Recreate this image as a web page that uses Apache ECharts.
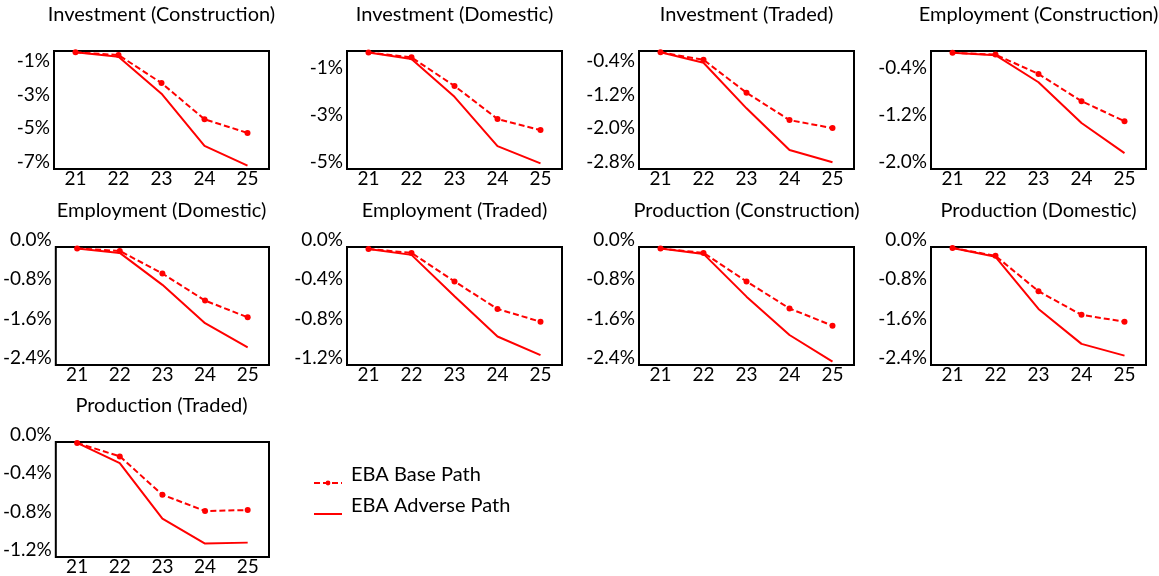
<!DOCTYPE html>
<html>
<head>
<meta charset="utf-8">
<title>EBA stress paths</title>
<script src="https://cdn.jsdelivr.net/npm/echarts@6/dist/echarts.min.js"></script>
<style>
  html, body { margin: 0; padding: 0; background: #ffffff; }
  #chart { width: 1159px; height: 576px; }
</style>
</head>
<body>
<div id="chart"></div>
<script>
// Years on the horizontal axis (20xx)
const years = ['21', '22', '23', '24', '25'];

const panelTitles = [
  'Investment (Construction)', 'Investment (Domestic)', 'Investment (Traded)', 'Employment (Construction)',
  'Employment (Domestic)', 'Employment (Traded)', 'Production (Construction)', 'Production (Domestic)',
  'Production (Traded)'
];

// Deviation from baseline, in percent
const invConstructionBase    = [-0.08, -0.24, -1.90, -4.05, -4.86];
const invConstructionAdverse = [-0.08, -0.34, -2.53, -5.63, -6.80];
const invDomesticBase        = [-0.06, -0.27, -1.48, -2.88, -3.35];
const invDomesticAdverse     = [-0.06, -0.34, -1.94, -4.03, -4.76];
const invTradedBase          = [-0.03, -0.21, -0.99, -1.64, -1.83];
const invTradedAdverse       = [-0.03, -0.28, -1.36, -2.35, -2.64];
const empConstructionBase    = [-0.03, -0.06, -0.39, -0.85, -1.19];
const empConstructionAdverse = [-0.03, -0.07, -0.53, -1.22, -1.73];
const empDomesticBase        = [-0.03, -0.08, -0.54, -1.09, -1.43];
const empDomesticAdverse     = [-0.03, -0.12, -0.77, -1.55, -2.04];
const empTradedBase          = [-0.02, -0.06, -0.35, -0.63, -0.76];
const empTradedAdverse       = [-0.02, -0.08, -0.50, -0.91, -1.10];
const prodConstructionBase   = [-0.03, -0.12, -0.70, -1.25, -1.60];
const prodConstructionAdverse= [-0.03, -0.14, -1.01, -1.79, -2.33];
const prodDomesticBase       = [-0.02, -0.18, -0.90, -1.38, -1.52];
const prodDomesticAdverse    = [-0.02, -0.20, -1.26, -1.97, -2.21];
const prodTradedBase         = [-0.01, -0.15, -0.55, -0.72, -0.71];
const prodTradedAdverse      = [-0.01, -0.22, -0.80, -1.06, -1.05];

// Value-axis scales: lower bound, step and label decimals (upper bound is 0)
const axisMin      = [-7, -5, -2.8, -2.0, -2.4, -1.2, -2.4, -2.4, -1.2];
const axisInterval = [ 2,  2,  0.8,  0.8,  0.8,  0.4,  0.8,  0.8,  0.4];
const axisDecimals = [ 0,  0,  1,    1,    1,    1,    1,    1,    1  ];

const seriesNames = ['EBA Base Path', 'EBA Adverse Path'];

const baseSets = [invConstructionBase, invDomesticBase, invTradedBase, empConstructionBase,
  empDomesticBase, empTradedBase, prodConstructionBase, prodDomesticBase, prodTradedBase];
const adverseSets = [invConstructionAdverse, invDomesticAdverse, invTradedAdverse, empConstructionAdverse,
  empDomesticAdverse, empTradedAdverse, prodConstructionAdverse, prodDomesticAdverse, prodTradedAdverse];

const FONT = 'Lato';
const RED = '#ff0000';

// panel frames: column lefts, row tops
const colLeft = [54, 347, 639, 931];
const rowTop = [51, 247, 442];
const boxW = 215, boxH = 118;

const grids = [], xAxes = [], yAxes = [], titles = [], series = [];

panelTitles.forEach((name, i) => {
  const r = Math.floor(i / 4), c = i % 4;
  const left = colLeft[c], top = rowTop[r];
  grids.push({
    left: left, top: top, width: boxW, height: boxH,
    show: true, borderColor: '#000', borderWidth: 2, backgroundColor: 'transparent',
    containLabel: false
  });
  titles.push({
    text: name,
    left: left + boxW / 2, top: top - 46,
    textAlign: 'center',
    padding: 0,
    textStyle: { fontFamily: FONT, fontSize: 20, fontWeight: 'normal', color: '#000' }
  });
  const min = axisMin[i], step = axisInterval[i], dec = axisDecimals[i];
  const onGrid = Math.abs(Math.round(-min / step) * step + min) < 1e-9;
  xAxes.push({
    type: 'category', gridIndex: i, data: years, boundaryGap: true,
    axisLine: { show: false }, axisTick: { show: false },
    axisLabel: { fontFamily: FONT, fontSize: 19, color: '#000', margin: 0 }
  });
  yAxes.push({
    type: 'value', gridIndex: i, min: min, max: 0, interval: step,
    axisLine: { show: false }, axisTick: { show: false }, splitLine: { show: false },
    axisLabel: {
      fontFamily: FONT, fontSize: 19, color: '#000', margin: 4,
      showMaxLabel: onGrid,
      verticalAlign: 'bottom', lineHeight: 14,
      formatter: v => {
        if (Math.abs(v) < 1e-9) v = 0;
        return v.toFixed(dec) + '%';
      }
    }
  });
  series.push({
    name: seriesNames[0], type: 'line', xAxisIndex: i, yAxisIndex: i,
    data: baseSets[i], symbol: 'circle', symbolSize: 6, showSymbol: true,
    itemStyle: { color: RED },
    lineStyle: { color: RED, width: 2, type: [6, 3] },
    z: 3, animation: false
  });
  series.push({
    name: seriesNames[1], type: 'line', xAxisIndex: i, yAxisIndex: i,
    data: adverseSets[i], symbol: 'none',
    itemStyle: { color: RED },
    lineStyle: { color: RED, width: 2 },
    z: 2, animation: false
  });
});

// legend entries: key line with the series' own stroke; text sits slightly above it
const legendText = {
  formatter: '{t|{name}}',
  textStyle: {
    rich: { t: { fontFamily: FONT, fontSize: 20, color: '#000', padding: [0, 0, 16, 4] } }
  }
};
const legends = [
  Object.assign({
    data: [{ name: seriesNames[0] }],
    left: 313, top: 465,
    itemWidth: 28, itemHeight: 6, padding: 0, selectedMode: false
  }, legendText),
  Object.assign({
    data: [{ name: seriesNames[1], itemStyle: { opacity: 0, color: 'transparent' } }],
    left: 313, top: 496,
    itemWidth: 28, itemHeight: 6, padding: 0, selectedMode: false
  }, legendText)
];

const chart = echarts.init(document.getElementById('chart'), null, { renderer: 'canvas' });
chart.setOption({
  backgroundColor: '#ffffff',
  animation: false,
  title: titles,
  grid: grids,
  xAxis: xAxes,
  yAxis: yAxes,
  legend: legends,
  series: series
});
</script>
</body>
</html>
